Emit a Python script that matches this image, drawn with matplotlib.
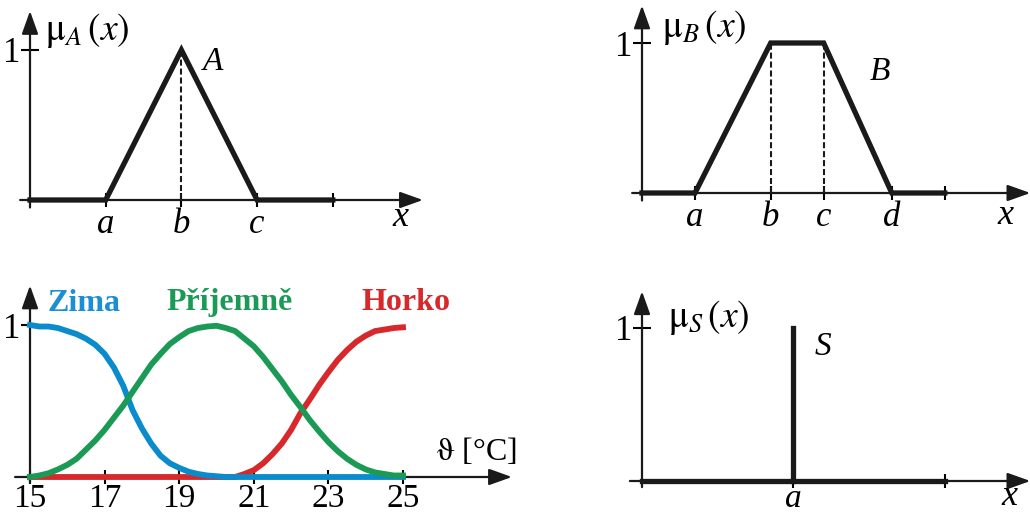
import matplotlib
matplotlib.use("Agg")
import matplotlib.pyplot as plt

SERIF = "Liberation Serif"
plt.rcParams["font.family"] = SERIF

# --- triangular set A ---
tri_x = [0, 1, 2, 3, 4]
tri_mu = [0, 0, 1, 0, 0]
tri_ticks = [1, 2, 3, 4]
tri_labels = ["a", "b", "c", ""]

# --- trapezoidal set B ---
trap_x = [0, 0.7, 1.7, 2.4, 3.3, 4.0]
trap_mu = [0, 0, 1, 1, 0, 0]
trap_ticks = [0.7, 1.7, 2.4, 3.3, 4.0]
trap_labels = ["a", "b", "c", "d", ""]

# --- temperature sets (°C) ---
temps = [15, 15.25, 15.5, 15.75, 16, 16.25, 16.5, 16.75, 17, 17.25,
         17.5, 17.75, 18, 18.25, 18.5, 18.75, 19, 19.25, 19.5, 19.75,
         20, 20.25, 20.5, 20.75, 21, 21.25, 21.5, 21.75, 22, 22.25,
         22.5, 22.75, 23, 23.25, 23.5, 23.75, 24, 24.25, 24.5, 24.75, 25]
zima = [1.00, 0.99, 0.99, 0.98, 0.96, 0.94, 0.91, 0.87, 0.81, 0.72,
        0.60, 0.44, 0.32, 0.22, 0.14, 0.09, 0.06, 0.035, 0.02, 0.01,
        0.005, 0, 0, 0, 0, 0, 0, 0, 0, 0,
        0, 0, 0, 0, 0, 0, 0, 0, 0, 0, 0]
prijemne = [0.00, 0.01, 0.025, 0.05, 0.08, 0.12, 0.18, 0.24, 0.31, 0.39,
            0.47, 0.56, 0.65, 0.74, 0.81, 0.875, 0.92, 0.96, 0.98, 0.99,
            0.995, 0.98, 0.96, 0.91, 0.86, 0.79, 0.71, 0.63, 0.54, 0.46,
            0.375, 0.30, 0.23, 0.17, 0.12, 0.08, 0.05, 0.03, 0.02, 0.01, 0.01]
horko = [0, 0, 0, 0, 0, 0, 0, 0, 0, 0,
         0, 0, 0, 0, 0, 0, 0, 0, 0, 0,
         0, 0, 0, 0.02, 0.045, 0.09, 0.15, 0.22, 0.31, 0.42,
         0.51, 0.605, 0.69, 0.77, 0.835, 0.89, 0.93, 0.96, 0.97, 0.98, 0.985]
temp_ticks = [15, 17, 19, 21, 23, 25]

# --- singleton S ---
single_a = 2.0
single_mu = 1.0
single_end = 4.0

W, H = 1030, 517
fig = plt.figure(figsize=(W / 100, H / 100), dpi=100)


def panel(box, origin, unit, x0=0.0):
    # box (left, top, width, height) and origin in pixels, unit = pixels per data unit
    l, t, w, h = box
    ox, oy = origin
    ux, uy = unit
    ax = fig.add_axes([l / W, 1 - (t + h) / H, w / W, h / H])
    ax.set_xlim(x0 + (l - ox) / ux, x0 + (l + w - ox) / ux)
    ax.set_ylim((oy - (t + h)) / uy, (oy - t) / uy)
    ax.patch.set_alpha(0)
    for s in ax.spines.values():
        s.set_visible(False)
    ax.spines["left"].set_position(("data", x0))
    ax.spines["bottom"].set_position(("data", 0))
    ax.tick_params(axis="x", direction="inout", length=10, width=1.5, pad=1)
    ax.tick_params(axis="y", direction="inout", length=13, width=1.5, pad=0.5)
    ax.set_yticks([1], ["1"], family=SERIF, fontsize=25)
    return ax


def arrows(ax, x0, xl, xt, yl, yt):
    style = dict(arrowstyle="-|>,head_length=1.4,head_width=0.5", lw=1.6,
                 color="#1a1a1a", shrinkA=0, shrinkB=0, mutation_scale=10)
    ax.annotate("", xy=(xt, 0), xytext=(xl, 0), arrowprops=style,
                annotation_clip=False)
    ax.annotate("", xy=(x0, yt), xytext=(x0, yl), arrowprops=style,
                annotation_clip=False)


def label(ax, x, y, s, size=24, **kw):
    ax.text(x, y, s, fontsize=size, ha="center", va="center", family=SERIF,
            math_fontfamily="stix", **kw)


ink = "#1a1a1a"
dash = (0, (2.9, 1.4))

# triangular
ax = panel((0, 0, 430, 250), (30, 200), (75.7, 150))
arrows(ax, 0, -0.13, 5.19, -0.05, 1.26)
ax.plot(tri_x, tri_mu, color=ink, lw=3.8, solid_joinstyle="miter")
ax.vlines([tri_x[2]], 0, 1, colors=ink, lw=1.5, linestyles=dash)
ax.set_xticks(tri_ticks, tri_labels, style="italic", family=SERIF, fontsize=25)
label(ax, 0.75, 1.13, r"$\mathrm{\mu}_{A}\,(x)$", size=27)
label(ax, 2.42, 0.92, "A", style="italic")
label(ax, 4.89, -0.12, "x", size=26, style="italic")

# trapezoidal
ax = panel((600, 0, 430, 250), (642, 193), (75.7, 150))
arrows(ax, 0, -0.13, 5.13, -0.05, 1.25)
ax.plot(trap_x, trap_mu, color=ink, lw=3.8, solid_joinstyle="miter")
ax.vlines(trap_x[2:4], 0, 1, colors=ink, lw=1.5, linestyles=dash)
ax.set_xticks(trap_ticks, trap_labels, style="italic", family=SERIF, fontsize=25)
label(ax, 0.82, 1.1, r"$\mathrm{\mu}_{B}\,(x)$", size=27)
label(ax, 3.14, 0.81, "B", style="italic")
label(ax, 4.8, -0.15, "x", size=26, style="italic")

# temperature sets
ax = panel((0, 270, 530, 247), (30, 477), (37.3, 152), x0=15)
arrows(ax, 15, 14.6, 27.92, -0.04, 1.26)
ax.plot(temps, horko, color="#d7282c", lw=4.2, zorder=3)
ax.plot(temps, zima, color="#0a8bcb", lw=4.2, zorder=4)
ax.plot(temps, prijemne, color="#1a9a55", lw=4.2, zorder=5)
ax.set_xticks(temp_ticks, [str(t) for t in temp_ticks], family=SERIF, fontsize=24)
ax.tick_params(axis="x", pad=0)
label(ax, 16.45, 1.14, "Zima", size=23, weight="bold", color="#1a8fd6")
label(ax, 20.36, 1.15, "Příjemně", size=23, weight="bold", color="#1a9a55")
label(ax, 25.08, 1.15, "Horko", size=23, weight="bold", color="#d7282c")
label(ax, 26.98, 0.165, r"$\mathrm{\vartheta}$ [°C]", size=23)

# singleton
ax = panel((600, 270, 430, 247), (642, 481), (75.7, 153))
arrows(ax, 0, -0.16, 5.13, -0.04, 1.24)
ax.plot([0, single_end], [0, 0], color=ink, lw=3.8)
ax.plot([single_a, single_a], [0, single_mu], color=ink, lw=3.8)
ax.set_xticks([single_a, single_end], ["a", ""], style="italic", family=SERIF, fontsize=24)
ax.tick_params(axis="x", pad=-3)
label(ax, 0.88, 1.07, r"$\mathrm{\mu}_{S}\,(x)$", size=27)
label(ax, 2.39, 0.88, "S", style="italic")
label(ax, 4.86, -0.1, "x", size=26, style="italic")

fig.savefig("out.png", dpi=100)
